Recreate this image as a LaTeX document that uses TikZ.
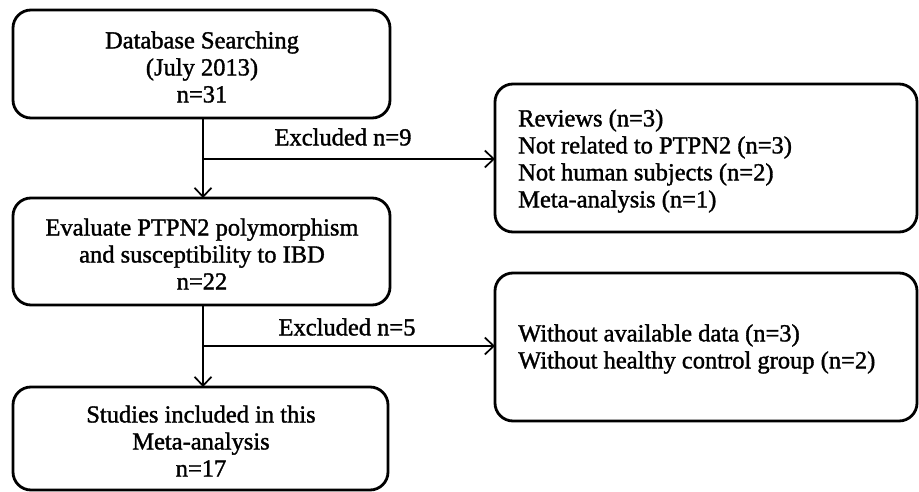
\documentclass[tikz,border=0pt]{standalone}
\usepackage{fontspec}
\setmainfont{Liberation Serif}[FakeBold=1.4]
\usetikzlibrary{arrows.meta,positioning}
\begin{document}
\begin{tikzpicture}[x=1pt,y=-1pt,
  box/.style={draw, line width=2.8pt, rounded corners=18pt, inner sep=0pt},
  conn/.style={line width=1.7pt},
  arr/.style={conn, -{Straight Barb[length=9pt,width=17pt,line width=1.7pt]}},
  txt/.style={font=\fontsize{24.5}{27}\selectfont, inner sep=0pt},
]
\useasboundingbox (0,0) rectangle (919,492);
% boxes
\draw[box] (13,10) rectangle (390,118);
\draw[box] (13,198) rectangle (390,305);
\draw[box] (13,387) rectangle (388,490);
\draw[box] (495,84) rectangle (917,232);
\draw[box] (495,273) rectangle (917,421);
% named anchors
\coordinate (b1s) at (203,118);
\coordinate (b2n) at (203,198);
\coordinate (b2s) at (203,305);
\coordinate (b3n) at (203,387);
\coordinate (j1) at (203,159);
\coordinate (j2) at (203,346);
\coordinate (r1w) at (495,159);
\coordinate (r2w) at (495,346);
% texts
\node[txt, align=center] (t1) at (202,67) {Database Searching\\(July 2013)\\n=31};
\node[txt, align=center] (t2) at (202,254) {Evaluate PTPN2 polymorphism\\and susceptibility to IBD\\n=22};
\node[txt, align=center] (t3) at (201,441) {Studies included in this\\Meta-analysis\\n=17};
\node[txt, align=left, anchor=west] (t4) at (518,161) {Reviews (n=3)\\Not related to PTPN2 (n=3)\\Not human subjects (n=2)\\Meta-analysis (n=1)};
\node[txt, align=left, anchor=west] (t5) at (518,349) {Without available data (n=3)\\Without healthy control group (n=2)};
\node[txt] (l1) at (343,137) {Excluded n=9};
\node[txt] (l2) at (347,327) {Excluded n=5};
% connectors
\draw[arr] (b1s) -- (b2n);
\draw[arr] (j1) -- (r1w);
\draw[arr] (b2s) -- (b3n);
\draw[arr] (j2) -- (r2w);
\end{tikzpicture}
\end{document}
